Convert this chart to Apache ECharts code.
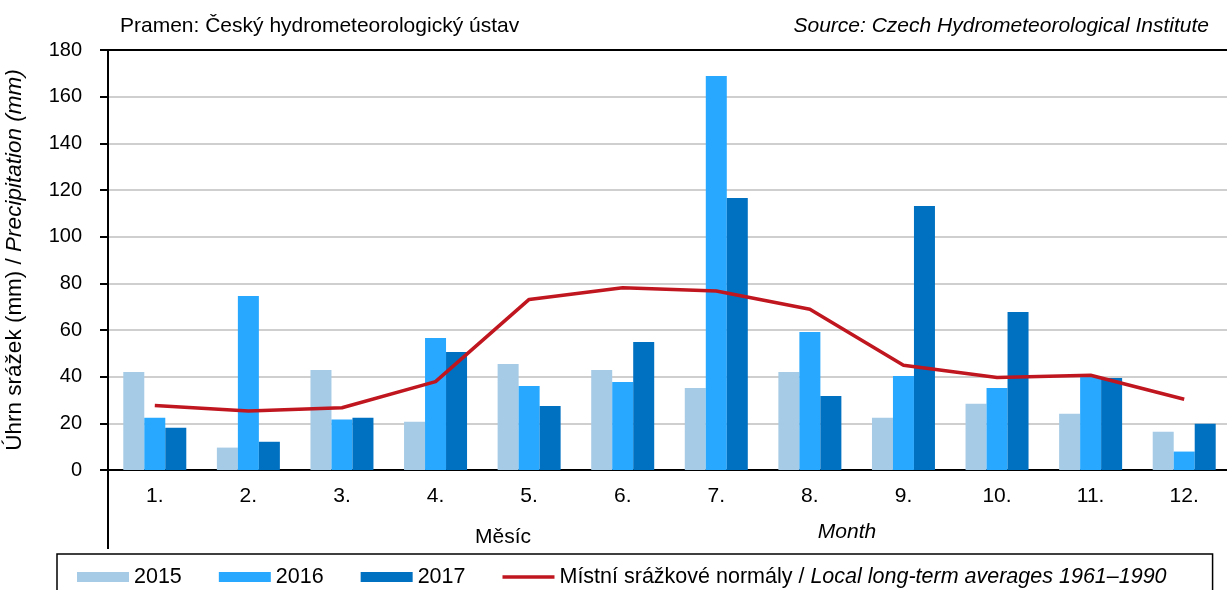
<!DOCTYPE html>
<html>
<head>
<meta charset="utf-8">
<script src="https://cdn.jsdelivr.net/npm/echarts@6/dist/echarts.min.js"></script>
<style>
  html, body { margin: 0; padding: 0; background: #fff; }
  #chart { width: 1227px; height: 590px; }
</style>
</head>
<body>
<div id="chart"></div>
<script>
// monthly precipitation (mm)
var months = ['1.', '2.', '3.', '4.', '5.', '6.', '7.', '8.', '9.', '10.', '11.', '12.'];
var y2015 = [42, 9.6, 42.9, 20.7, 45.4, 42.9, 35.1, 42, 22.4, 28.4, 24.1, 16.4];
var y2016 = [22.4, 74.6, 21.6, 56.6, 36, 37.7, 168.9, 59.1, 40.3, 35.1, 40.3, 7.9];
var y2017 = [18.1, 12.1, 22.4, 50.6, 27.4, 54.9, 116.6, 31.7, 113.1, 67.7, 39.4, 19.8];
var normals = [27.6, 25.3, 26.7, 37.9, 73.1, 78.1, 76.7, 68.9, 44.9, 39.6, 40.6, 30.3];
var normalName = 'Místní srážkové normály / Local long-term averages 1961–1990';

var font = 'Liberation Sans, Arial, sans-serif';
var myChart = echarts.init(document.getElementById('chart'));

var option = {
    animation: false,
    textStyle: { fontFamily: font, color: '#000' },
    title: [
        {
            text: 'Pramen: Český hydrometeorologický ústav',
            left: 115, top: 11,
            textStyle: { fontFamily: font, fontSize: 21, fontWeight: 'normal', color: '#000' }
        },
        {
            text: 'Source: Czech Hydrometeorological Institute',
            right: 13, top: 11,
            textStyle: { fontFamily: font, fontSize: 21, fontWeight: 'normal', fontStyle: 'italic', color: '#000' }
        }
    ],
    grid: {
        left: 108,
        top: 50,
        width: 1123,
        height: 420,
        outerBoundsMode: 'none'
    },
    legend: {
        left: 57,
        top: 554,
        padding: [12, 46, 20, 20],
        borderColor: '#000',
        borderWidth: 1.5,
        itemWidth: 52,
        itemHeight: 10,
        itemGap: 37,
        icon: 'rect',
        textStyle: {
            fontFamily: font,
            fontSize: 21.5,
            color: '#000',
            rich: {
                n: { fontFamily: font, fontSize: 21.5, color: '#000' },
                i: { fontFamily: font, fontSize: 21.5, color: '#000', fontStyle: 'italic' }
            }
        },
        formatter: function (name) {
            if (name === normalName) {
                return '{n|Místní srážkové normály / }{i|Local long-term averages 1961–1990}';
            }
            return name;
        },
        data: ['2015', '2016', '2017', {
            name: normalName,
            icon: 'path://M0,0 L52,0 L52,3.5 L0,3.5 Z',
            itemStyle: { color: '#C0161F' }
        }]
    },
    xAxis: [
        {
            type: 'category',
            data: months,
            axisLine: { lineStyle: { color: '#000', width: 2 } },
            axisTick: { length: 38, interval: 0, lineStyle: { color: '#000', width: 2 } },
            axisLabel: { margin: 16, fontSize: 21, color: '#000', fontFamily: font }
        },
        {
            type: 'category',
            position: 'top',
            data: months,
            axisLine: { lineStyle: { color: '#000', width: 2 } },
            axisTick: { show: false },
            axisLabel: { show: false }
        }
    ],
    yAxis: {
        type: 'value',
        min: 0,
        max: 180,
        interval: 20,
        name: '{n|Úhrn srážek (mm) / }{i|Precipitation (mm)}',
        nameLocation: 'middle',
        nameGap: 82,
        nameRotate: 90,
        nameTextStyle: {
            rich: {
                n: { fontFamily: font, fontSize: 22.5, color: '#000' },
                i: { fontFamily: font, fontSize: 22.5, color: '#000', fontStyle: 'italic' }
            }
        },
        axisLine: { show: true, lineStyle: { color: '#000', width: 2 } },
        axisTick: { show: true, length: 8, lineStyle: { color: '#000', width: 2 } },
        axisLabel: { margin: 26, fontSize: 20, color: '#000', fontFamily: font },
        splitLine: { lineStyle: { color: '#BFBFBF', width: 1.5 } }
    },
    series: [
        {
            name: '2015',
            type: 'bar',
            barWidth: 21,
            barGap: '0%',
            itemStyle: { color: '#A6CBE6' },
            data: y2015
        },
        {
            name: '2016',
            type: 'bar',
            barWidth: 21,
            barGap: '0%',
            itemStyle: { color: '#29A8FF' },
            data: y2016
        },
        {
            name: '2017',
            type: 'bar',
            barWidth: 21,
            barGap: '0%',
            itemStyle: { color: '#0070C0' },
            data: y2017
        },
        {
            name: normalName,
            type: 'line',
            symbol: 'none',
            z: 5,
            lineStyle: { color: '#C0161F', width: 3.5 },
            itemStyle: { color: '#C0161F' },
            data: normals
        }
    ],
    graphic: [
        {
            type: 'line',
            shape: { x1: 108, y1: 470, x2: 108, y2: 549 },
            style: { stroke: '#000', lineWidth: 2 }
        },
        {
            type: 'text',
            x: 503, y: 537,
            style: { text: 'Měsíc', font: '21px ' + font, fill: '#000', textAlign: 'center', textVerticalAlign: 'middle' }
        },
        {
            type: 'text',
            x: 847, y: 532,
            style: { text: 'Month', font: 'italic 21px ' + font, fill: '#000', textAlign: 'center', textVerticalAlign: 'middle' }
        }
    ]
};

myChart.setOption(option);
</script>
</body>
</html>
